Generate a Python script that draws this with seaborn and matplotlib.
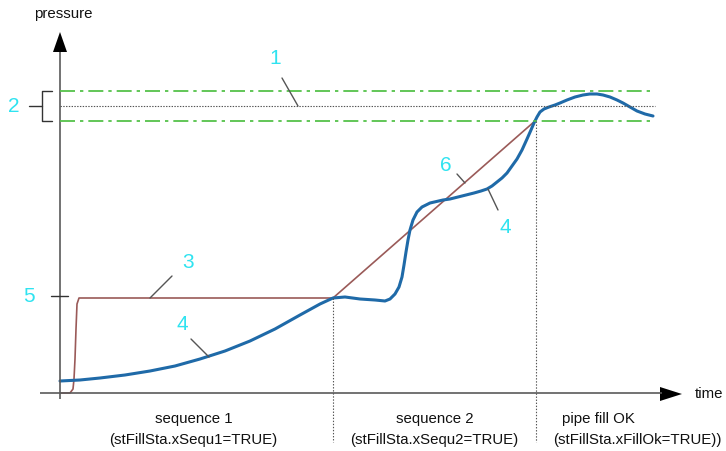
import matplotlib
matplotlib.use("Agg")
import matplotlib.pyplot as plt
import seaborn as sns
import pandas as pd

# ---------------- data (pixel-space diagram coordinates) ----------------
blue_x = [60, 80, 100, 125, 150, 175, 200, 225, 250, 275, 300, 320, 333, 345, 360,
          375, 385, 390, 395, 399, 402, 404, 406, 408, 410, 413, 417, 422, 430, 443,
          450, 458, 466, 474, 481, 487, 492, 497, 502, 507, 512, 517, 522, 527, 531,
          534, 537, 540, 544, 549, 555, 560, 567, 575, 583, 590, 597, 603, 610, 617,
          623, 630, 637, 645, 653]
blue_y = [382, 381, 379, 376, 372, 367, 360, 352, 342, 330, 316, 305, 299, 298, 300,
          301, 302, 300, 295, 288, 278, 266, 253, 241, 231, 221, 213, 208, 204, 201,
          200, 198, 196, 194, 192, 190, 187, 183, 179, 174, 167, 160, 151, 140, 131,
          124, 118, 113, 110, 108, 106, 104, 101, 98, 96, 95, 95, 96, 98, 101,
          104, 108, 112, 115, 117]

red_x = [60, 70, 73, 74, 75, 76, 77, 79, 333, 535]
red_y = [394, 394, 390, 380, 360, 330, 305, 299, 299, 122]

tol_high, setpoint, tol_low = 92, 107, 122
phase_x = [333, 536]
phase_top = [299, 122]

phase_labels = ["sequence 1", "sequence 2", "pipe fill OK"]
phase_flags = ["(stFillSta.xSequ1=TRUE)", "(stFillSta.xSequ2=TRUE)", "(stFillSta.xFillOk=TRUE))"]
callouts = ["1", "2", "3", "4", "4", "5", "6"]

# ---------------- style ----------------
sns.set_style("white")
plt.rcParams["font.family"] = ["Liberation Sans", "DejaVu Sans"]
plt.rcParams["lines.scale_dashes"] = False

fig = plt.figure(figsize=(7.26, 4.52), dpi=100)
ax = fig.add_axes([0, 0, 1, 1])

axis_col = "#5a5a5a"
green = "#55c24a"
cyan = "#2fe3f0"
blue = "#1f6aa8"
red = "#9a5a58"
fs = 10.8

# curves
df_red = pd.DataFrame({"x": red_x, "y": red_y})
df_blue = pd.DataFrame({"x": blue_x, "y": blue_y})
sns.lineplot(data=df_red, x="x", y="y", sort=False, color=red, lw=1.2, ax=ax)
sns.lineplot(data=df_blue, x="x", y="y", sort=False, color=blue, lw=2.2, ax=ax,
             solid_joinstyle="round", solid_capstyle="round")
ax.set_xlim(0, 726)
ax.set_ylim(452, 0)
ax.axis("off")

# axes of the diagram
ax.plot([60, 60], [400, 53], color=axis_col, lw=1.2, solid_capstyle="butt")
ax.plot([40, 662], [394, 394], color=axis_col, lw=1.2, solid_capstyle="butt")
ax.fill([60, 53, 67], [33, 53, 53], color="black", lw=0)
ax.fill([682, 660, 660], [395, 388, 402], color="black", lw=0)
ax.text(63, 14, "pressure", ha="center", va="center", fontsize=fs, color="#111111")
ax.text(709, 394, "time", ha="center", va="center", fontsize=fs, color="#111111")

# tolerance band and setpoint
dashdot = (0, (10.8, 3.6, 2.4, 3.6))
ax.hlines([tol_high, tol_low], 60, 655, colors=green, lw=1.3, linestyles=[dashdot])
ax.hlines([setpoint], 60, 655, colors="#555555", lw=0.8, linestyles=[(0, (1, 1))])

# phase boundaries
for px, pt in zip(phase_x, phase_top):
    ax.vlines(px, pt, 443, colors="#555555", lw=0.8, linestyles=[(0, (1, 1.2))])

# bracket for item 2
ax.plot([52, 42, 42, 52], [tol_high, tol_high, tol_low, tol_low], color="#333333", lw=1.0)
ax.plot([29, 42], [setpoint, setpoint], color="#333333", lw=1.0)
# tick for item 5
ax.plot([51, 68], [297, 297], color="#333333", lw=1.0)

# leaders
leaders = [((282, 79), (298, 107)), ((172, 277), (150, 299)), ((191, 340), (209, 358)),
           ((498, 211), (488, 190)), ((457, 175), (465, 184))]
for (x0, y0), (x1, y1) in leaders:
    ax.plot([x0, x1], [y0, y1], color="#555555", lw=1.0)

callout_pos = [(275, 58), (14, 107), (188, 263), (182, 325), (505, 228), (29, 297), (446, 166)]
for lab, (cx, cy) in zip(callouts, callout_pos):
    ax.text(cx, cy, lab, ha="center", va="center", fontsize=15, color=cyan)

# phase labels
label_x = [194, 435, 598]
flag_x = [193, 434, 637]
for lab, fl, lx, fx in zip(phase_labels, phase_flags, label_x, flag_x):
    ax.text(lx, 419, lab, ha="center", va="center", fontsize=fs, color="#111111")
    ax.text(fx, 440, fl, ha="center", va="center", fontsize=fs, color="#111111")

fig.savefig("out.png", dpi=100)
